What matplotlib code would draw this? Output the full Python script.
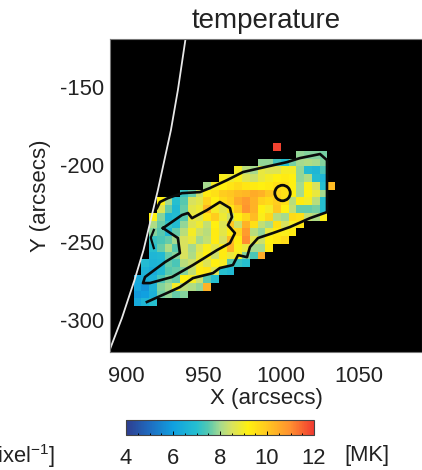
import numpy as np
import matplotlib
matplotlib.use("Agg")
import matplotlib.pyplot as plt
from matplotlib.colors import LinearSegmentedColormap
from matplotlib.cm import ScalarMappable
from matplotlib.colors import Normalize
from matplotlib.patches import Circle
from matplotlib.ticker import MultipleLocator

plt.rcParams['font.family'] = ['Liberation Sans', 'DejaVu Sans']
plt.rcParams['mathtext.default'] = 'regular'
plt.rcParams['axes.unicode_minus'] = False

TEXT = '#222222'
# Temperature rows [MK], top row first: (first column index, values)
row_00 = (19, [11.9])
row_01 = (22, [7.9, 7.8, 7.8, 7.7])
row_02 = (17, [7.9, 7.9, 7.3, 7.0, 7.7, 8.0, 8.1, 8.0, 7.8])
row_03 = (14, [9.0, 8.2, 8.0, 8.8, 8.6, 8.6, 9.0, 9.0, 7.9, 6.9, 6.7, 7.4])
row_04 = (12, [9.1, 8.9, 9.1, 8.6, 8.4, 8.8, 9.0, 9.2, 9.3, 9.2, 7.9, 8.1, 6.9, 6.7])
row_05 = (10, [8.0, 9.0, 9.2, 9.4, 9.6, 9.4, 9.3, 9.2, 9.3, 9.5, 9.5, 9.2, 8.0, 9.1, 8.5, 7.0, 10.2])
row_06 = (7, [7.2, 7.6, 8.4, 9.3, 9.5, 9.9, 10.0, 10.2, 10.3, 10.5, 10.4, 10.0, 9.7, 9.5, 9.2, 8.0, 9.2, 8.8, 8.0])
row_07 = (4, [9.2, 8.0, 7.0, 7.5, 8.5, 8.7, 9.8, 9.2, 9.6, 9.9, 10.5, 10.8, 10.4, 9.8, 9.6, 9.9, 9.5, 8.2, 9.3, 9.0, 8.2, 7.0])
row_08 = (4, [8.6, 7.6, 6.8, 7.6, 8.7, 8.9, 10.3, 9.0, 8.7, 9.4, 10.0, 10.9, 10.4, 9.2, 9.0, 10.0, 9.2, 8.3, 7.6, 7.6, 7.7, 7.0])
row_09 = (3, [9.2, 7.8, 6.7, 6.9, 7.5, 8.8, 8.6, 9.4, 9.9, 8.9, 8.4, 9.2, 9.7, 10.2, 9.1, 9.7, 8.2, 8.0, 9.6, 9.5, 8.3, 8.1, 9.1])
row_10 = (3, [8.1, 7.6, 7.2, 6.9, 7.9, 8.6, 8.9, 8.3, 9.2, 8.6, 10.0, 8.4, 10.4, 9.5, 8.3, 8.0, 9.5, 8.5, 9.0, 9.4])
row_11 = (3, [7.8, 7.5, 6.8, 7.6, 8.2, 9.0, 8.4, 8.2, 9.3, 8.7, 9.3, 9.7, 10.8, 8.2, 7.9, 8.8, 9.3, 9.1, 9.3])
row_12 = (3, [7.2, 7.4, 7.6, 8.0, 8.5, 8.8, 8.0, 8.3, 9.3, 8.5, 10.2, 9.3, 11.0, 8.7, 8.4, 9.2, 9.4, 9.6])
row_13 = (3, [7.0, 7.6, 8.1, 7.5, 8.5, 8.0, 8.6, 9.1, 8.7, 9.3, 10.4, 9.1, 8.8, 8.0, 8.0, 9.3])
row_14 = (3, [6.7, 6.8, 7.6, 7.8, 8.5, 8.1, 8.8, 9.2, 8.4, 9.3, 8.8, 9.0, 7.8, 7.4, 10.5])
row_15 = (2, [6.9, 6.6, 6.7, 7.6, 7.4, 8.2, 8.4, 9.0, 8.6, 9.2, 9.0, 7.5, 7.2, 7.0])
row_16 = (2, [6.6, 6.4, 6.8, 7.5, 7.6, 7.8, 8.3, 9.3, 9.4, 8.6, 7.0, 6.8])
row_17 = (1, [6.3, 6.5, 6.6, 7.4, 7.8, 7.6, 9.2, 9.0, 8.4, 7.5, 7.0])
row_18 = (1, [6.2, 5.8, 6.6, 7.8, 8.0, 9.0, 8.2, 8.1, 7.9, 10.4])
row_19 = (1, [5.9, 6.0, 6.5, 7.7, 7.9, 7.6, 7.8])
row_20 = (1, [6.3, 6.7, 7.0])
rows = [row_00, row_01, row_02, row_03, row_04, row_05, row_06, row_07, row_08, row_09, row_10,
        row_11, row_12, row_13, row_14, row_15, row_16, row_17, row_18, row_19, row_20]

# Contours and limb, arcsec
outer_x = [920, 921.9, 927.1, 936.1, 947.7, 954.2, 965.2, 975.5, 986.5, 1003.9, 1012.3, 1025.2, 1029.7,
           1029.7, 1018.7, 1005.8, 994.8, 985.2, 980, 978.1, 972.3, 969, 960.6, 956.1, 943.2, 934.8, 926.5, 913.5]
outer_y = [-227.9, -224, -221.5, -218.3, -217.6, -215, -209.9, -204.7, -202.2, -198.3, -195.7, -193.1, -197,
           -230.5, -234.4, -240.1, -244, -247.2, -253, -259.5, -258.2, -264.6, -266.5, -269.8, -273, -278.8, -282.6, -288.4]
arc_x = [918, 916, 918]
arc_y = [-242, -247, -253.7]
inner_x = [923.9, 936.1, 940, 942.6, 952.3, 960.6, 967.1, 968.4, 965.8, 970.3, 967.1, 958.7, 943.2, 929.7,
           915.5, 911, 912.3, 925.2, 934.8, 933.5, 923.9]
inner_y = [-240.8, -232.4, -231.1, -234.4, -229.2, -224, -227.9, -233.7, -238.9, -244, -250.4, -255, -264.6, -272.3,
           -276.2, -276.2, -272.3, -262.7, -256.9, -247.2, -240.8]
limb_x = [938.4, 933.5, 929, 920.6, 911.3, 905.5, 897.4, 889]
limb_y = [-119.1, -151.9, -177.7, -216.3, -255, -274.3, -298.7, -320.6]
circle_center = (1001, -218.2)
circle_radius = 5

x_ticks = [900, 950, 1000, 1050]
y_ticks = [-150, -200, -250, -300]
cbar_ticks = [4, 6, 8, 10, 12]

cmap = LinearSegmentedColormap.from_list('t', [
    (0.0, '#2f3d8f'), (0.125, '#1f6cc0'), (0.25, '#10a0e0'), (0.375, '#25bfd0'), (0.4375, '#55c8b0'),
    (0.5, '#a4da90'), (0.5625, '#d8e260'), (0.65, '#fff010'), (0.75, '#ffc820'), (0.875, '#ff9030'),
    (1.0, '#f03a30')])
norm = Normalize(4, 12)

W, H = 422, 470
fig = plt.figure(figsize=(W / 100, H / 100), dpi=100)
ax = fig.add_axes([110 / W, 1 - 352 / H, (W - 110) / W, (352 - 39) / H])
ax.set_facecolor('black')

grid = np.full((len(rows), 28), np.nan)
for i, (start, vals) in enumerate(rows):
    grid[i, start:start + len(vals)] = vals
xe = 900 + 5 * np.arange(grid.shape[1] + 1)
ye = -186 - 5 * np.arange(grid.shape[0] + 1)
ax.pcolormesh(xe, ye, np.ma.masked_invalid(grid), cmap=cmap, norm=norm)

ax.plot(limb_x, limb_y, color='#e8e8e8', lw=1.3)
ax.plot(outer_x, outer_y, color='#0a0a0a', lw=1.9)
ax.plot(arc_x, arc_y, color='#0a0a0a', lw=1.6)
ax.plot(inner_x, inner_y, color='#0a0a0a', lw=1.9)
ax.add_patch(Circle(circle_center, circle_radius, fill=False, ec='#0a0a0a', lw=2.0))

ax.set_xlim(889.7, 1091)
ax.set_ylim(-320.6, -119)
ax.set_xticks(x_ticks)
ax.set_yticks(y_ticks)
ax.tick_params(axis='y', length=0, labelsize=15.8, labelcolor=TEXT, pad=4)
ax.tick_params(axis='x', length=0, labelsize=15.8, labelcolor=TEXT, pad=10)
ax.set_xlabel('X (arcsecs)', fontsize=16, color=TEXT, labelpad=1)
ax.set_ylabel('Y (arcsecs)', fontsize=16, color=TEXT, labelpad=7)
fig.text(266 / W, 1 - 21 / H, 'temperature', fontsize=20, color=TEXT, ha='center', va='center')
for s in ax.spines.values():
    s.set_color('#777777')
    s.set_linewidth(0.8)

cax = fig.add_axes([126 / W, 1 - 435 / H, (314 - 126) / W, 15 / H])
cb = fig.colorbar(ScalarMappable(norm=norm, cmap=cmap), cax=cax, orientation='horizontal')
cb.set_ticks(cbar_ticks)
cax.xaxis.set_minor_locator(MultipleLocator(0.5))
cax.tick_params(which='major', direction='in', length=3, width=0.7, labelsize=15.8, labelcolor=TEXT, pad=9)
cax.tick_params(which='minor', direction='in', length=1.5, width=0.7)
cb.outline.set_edgecolor('#444444')
cb.outline.set_linewidth(0.8)

fig.text(390 / W, 1 - 456 / H, '[MK]', fontsize=15.8, color=TEXT, ha='right', va='center')
fig.text(55 / W, 1 - 456 / H, 'pixel$^{-1}$]', fontsize=15.8, color=TEXT, ha='right', va='center')

fig.savefig('out.png', dpi=100)
